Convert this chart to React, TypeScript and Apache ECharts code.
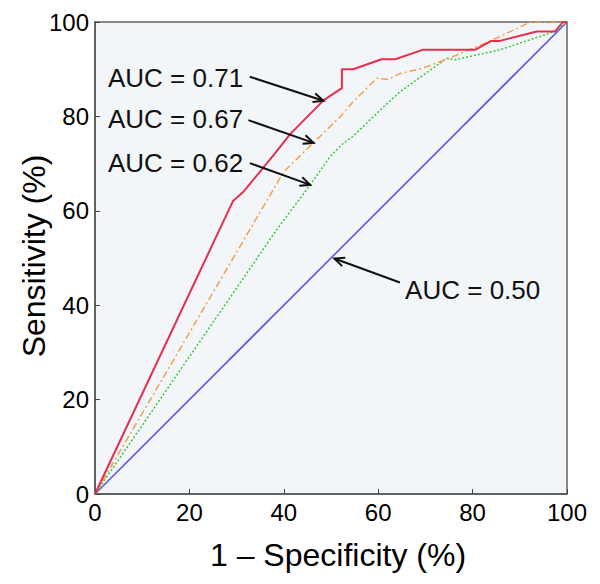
import React, { useEffect, useRef } from "react";
import * as echarts from "echarts";

// ROC curves: [1 - specificity (%), sensitivity (%)]
const redCurve: number[][] = [
  [0, 0], [29.2, 62.0], [31.6, 64.2], [38, 72], [41.3, 76.2], [48.4, 83.4],
  [52.3, 86], [52.3, 90], [54.7, 90], [60.7, 92.1], [63.6, 92.1], [69.4, 94.1],
  [80.5, 94.1], [84, 96], [85.8, 96], [93.6, 98.0], [97.5, 98.0], [99.1, 100], [100, 100],
];
const orangeCurve: number[][] = [
  [0, 0], [40, 68.3], [46.3, 74.4], [51.9, 79.9], [54.7, 83.1], [59.7, 88.1],
  [62.1, 87.8], [64.6, 89.1], [69.4, 90.2], [74.5, 92.1], [80.9, 94.8],
  [85.8, 96.9], [92.2, 100], [100, 100],
];
const greenCurve: number[][] = [
  [0, 0], [38.5, 56], [45.6, 65.5], [49.8, 71.5], [52.6, 74.3], [54.7, 75.8],
  [61.1, 82], [64.6, 85.2], [74.5, 92.3], [76.3, 92], [85.8, 94.1], [97.1, 97.9], [100, 100],
];
const blueCurve: number[][] = [[0, 0], [100, 100]];

const xTicks = { min: 0, max: 100, interval: 20 };
const yTicks = { min: 0, max: 100, interval: 20 };

// annotations: label, label anchor [x, y], arrow start [x, y], arrow tip [x, y]
const annLabels: string[] = ["AUC = 0.71", "AUC = 0.67", "AUC = 0.62", "AUC = 0.50"];
const annTextPos: number[][] = [[2.75, 88.2], [2.75, 79.4], [2.75, 70.2], [65.7, 43.3]];
const annArrowFrom: number[][] = [[32.8, 88.4], [32.5, 79.2], [32.8, 70.1], [64.6, 44.8]];
const annArrowTo: number[][] = [[48.4, 83.3], [46.3, 74.4], [45.6, 65.5], [50.7, 49.9]];

const FONT = "'Liberation Sans', Arial, sans-serif";

export default function App() {
  const ref = useRef<HTMLDivElement>(null);
  useEffect(() => {
    if (!ref.current) return;
    const chart = echarts.init(ref.current, undefined, { renderer: "svg" });
    const annData = annLabels.map((l, i) => [
      annTextPos[i][0], annTextPos[i][1],
      annArrowFrom[i][0], annArrowFrom[i][1],
      annArrowTo[i][0], annArrowTo[i][1], i,
    ]);
    chart.setOption({
      animation: false,
      backgroundColor: "#ffffff",
      grid: {
        left: 95, top: 22, width: 472, height: 472,
        show: true, backgroundColor: "#f3f6f8", borderColor: "#666", borderWidth: 1.5,
      },
      xAxis: {
        type: "value", ...xTicks,
        axisLine: { show: true, lineStyle: { color: "#555", width: 1.5 } },
        axisTick: { show: true, inside: true, length: 5, lineStyle: { color: "#444" } },
        splitLine: { show: false },
        axisLabel: { color: "#000", fontSize: 24, fontFamily: FONT, margin: 6 },
      },
      yAxis: {
        type: "value", ...yTicks,
        axisLine: { show: true, lineStyle: { color: "#555", width: 1.5 } },
        axisTick: { show: true, inside: true, length: 5, lineStyle: { color: "#444" } },
        splitLine: { show: false },
        axisLabel: { color: "#000", fontSize: 24, fontFamily: FONT, margin: 6 },
      },
      series: [
        {
          type: "line", data: blueCurve, symbol: "none",
          lineStyle: { color: "#5a5ae6", width: 1.6 },
        },
        {
          type: "line", data: greenCurve, symbol: "none",
          lineStyle: { color: "#3cc83c", width: 1.5, type: [2, 2] },
        },
        {
          type: "line", data: orangeCurve, symbol: "none",
          lineStyle: { color: "#f2a04e", width: 1.5, type: [7, 3, 2, 3] },
        },
        {
          type: "line", data: redCurve, symbol: "none",
          lineStyle: { color: "#e62e4d", width: 2 },
        },
        {
          type: "custom",
          data: annData,
          clip: false,
          z: 10,
          renderItem: (params: any, api: any) => {
            const t = api.coord([api.value(0), api.value(1)]);
            const a = api.coord([api.value(2), api.value(3)]);
            const b = api.coord([api.value(4), api.value(5)]);
            const idx = api.value(6);
            const ang = Math.atan2(b[1] - a[1], b[0] - a[0]);
            const hl = 11, ha = 0.42;
            const h1 = [b[0] - hl * Math.cos(ang - ha), b[1] - hl * Math.sin(ang - ha)];
            const h2 = [b[0] - hl * Math.cos(ang + ha), b[1] - hl * Math.sin(ang + ha)];
            return {
              type: "group",
              children: [
                {
                  type: "line",
                  shape: { x1: a[0], y1: a[1], x2: b[0], y2: b[1] },
                  style: { stroke: "#111", lineWidth: 2 },
                },
                {
                  type: "polyline",
                  shape: { points: [h1, b, h2] },
                  style: { stroke: "#111", lineWidth: 2, fill: "none" },
                },
                {
                  type: "text",
                  x: t[0], y: t[1],
                  style: {
                    text: annLabels[idx], fill: "#111", fontSize: 26, fontFamily: FONT,
                    textAlign: "left", textVerticalAlign: "middle",
                  },
                },
              ],
            };
          },
        },
      ],
      graphic: [
        {
          type: "text", x: 338, y: 555,
          style: {
            text: "1 – Specificity (%)", fill: "#000", fontSize: 32, fontFamily: FONT,
            textAlign: "center", textVerticalAlign: "middle",
          },
        },
        {
          type: "text", x: 34, y: 256, rotation: Math.PI / 2,
          style: {
            text: "Sensitivity (%)", fill: "#000", fontSize: 32, fontFamily: FONT,
            textAlign: "center", textVerticalAlign: "middle",
          },
        },
      ],
    });
    return () => chart.dispose();
  }, []);
  return (
    <div
      ref={ref}
      style={{ position: "absolute", left: 0, top: 0, width: 600, height: 584 }}
    />
  );
}
